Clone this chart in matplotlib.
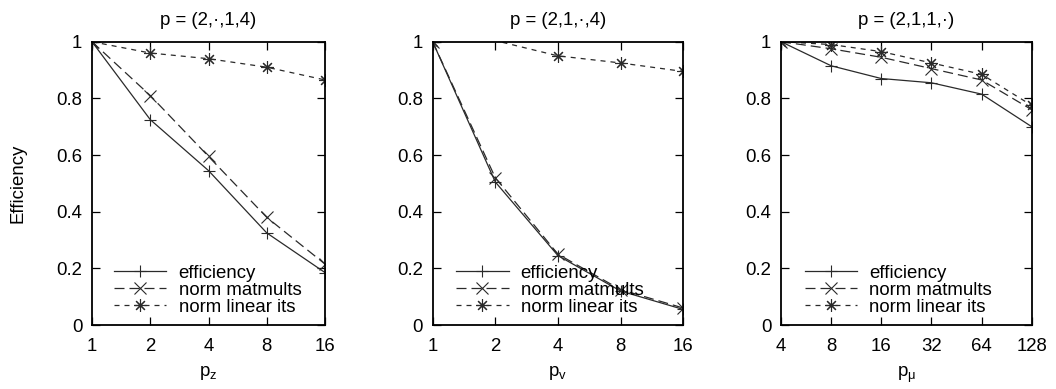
import matplotlib
matplotlib.use('Agg')
import matplotlib.pyplot as plt

plt.rcParams['font.family'] = ['Liberation Sans', 'DejaVu Sans']
plt.rcParams['mathtext.fontset'] = 'custom'
plt.rcParams['mathtext.rm'] = 'Liberation Sans'

# panel 1: vary p_z
pz = [1, 2, 4, 8, 16]
pz_eff = [1.0, 0.725, 0.545, 0.325, 0.185]
pz_mat = [1.0, 0.81, 0.595, 0.38, 0.215]
pz_lin = [1.0, 0.96, 0.94, 0.91, 0.865]

# panel 2: vary p_v
pv = [1, 2, 4, 8, 16]
pv_eff = [1.0, 0.505, 0.245, 0.12, 0.055]
pv_mat = [1.0, 0.52, 0.25, 0.125, 0.06]
pv_lin = [1.0, 1.004, 0.95, 0.925, 0.895]   # point at 2 is just above range

# panel 3: vary p_mu
pmu = [4, 8, 16, 32, 64, 128]
pmu_eff = [1.0, 0.915, 0.87, 0.855, 0.815, 0.70]
pmu_mat = [1.0, 0.975, 0.945, 0.905, 0.865, 0.76]
pmu_lin = [1.0, 0.99, 0.965, 0.925, 0.885, 0.775]

titles = ['p = (2,\u00b7,1,4)', 'p = (2,1,\u00b7,4)', 'p = (2,1,1,\u00b7)']
xlabels = [r'p$_{\mathregular{z}}$', r'p$_{\mathregular{v}}$', r'p$_{\mathregular{\mu}}$']
labels = ['efficiency', 'norm matmults', 'norm linear its']

panels = [(pz, pz_eff, pz_mat, pz_lin),
          (pv, pv_eff, pv_mat, pv_lin),
          (pmu, pmu_eff, pmu_mat, pmu_lin)]

boxes = [[0.0871, 0.1645, 0.2207, 0.7283],
         [0.4097, 0.1645, 0.2373, 0.7283],
         [0.7396, 0.1645, 0.2374, 0.7283]]

col = '#2a2a2a'
fs = 13.4

fig = plt.figure(figsize=(10.56, 3.89), dpi=100)
for i, (x, eff, mat, lin) in enumerate(panels):
    ax = fig.add_axes(boxes[i])
    styles = [('-', '+', 9), ((0, (8, 4)), 'x', 8), ((0, (4, 4)), (8, 2, 0), 9)]
    for y, lab, (ls, mk, ms) in zip([eff, mat, lin], labels, styles):
        # gnuplot leaves out points that fall outside the y range
        keep = [k for k, v in enumerate(y) if v <= 1.0]
        ax.plot(x, y, color=col, lw=0.9, ls=ls, marker=mk, ms=ms, mew=0.8,
                markevery=keep, label=lab)
    ax.set_xscale('log', base=2)
    ax.set_xlim(x[0], x[-1])
    ax.set_ylim(0, 1)
    ax.set_xticks(x)
    ax.set_xticklabels([str(v) for v in x])
    ax.minorticks_off()
    ax.set_yticks([0, 0.2, 0.4, 0.6, 0.8, 1])
    ax.set_yticklabels(['0', '0.2', '0.4', '0.6', '0.8', '1'])
    ax.tick_params(direction='in', length=6, width=0.9, top=True, right=True,
                   labelsize=fs, colors='black')
    ax.tick_params(axis='x', pad=9)
    ax.tick_params(axis='y', pad=7)
    for s in ax.spines.values():
        s.set_linewidth(1.3)
    ax.set_title(titles[i], fontsize=fs, pad=12)
    ax.set_xlabel(xlabels[i], fontsize=fs, labelpad=7)
    if i == 0:
        ax.set_ylabel('Efficiency', fontsize=fs, labelpad=21)
    ax.legend(loc='lower left', frameon=False, fontsize=fs, handlelength=2.8,
              handletextpad=0.65, labelspacing=0.0, borderaxespad=0.0,
              borderpad=0.2, bbox_to_anchor=(0.08, 0.02))

fig.savefig('out.png', dpi=100)
